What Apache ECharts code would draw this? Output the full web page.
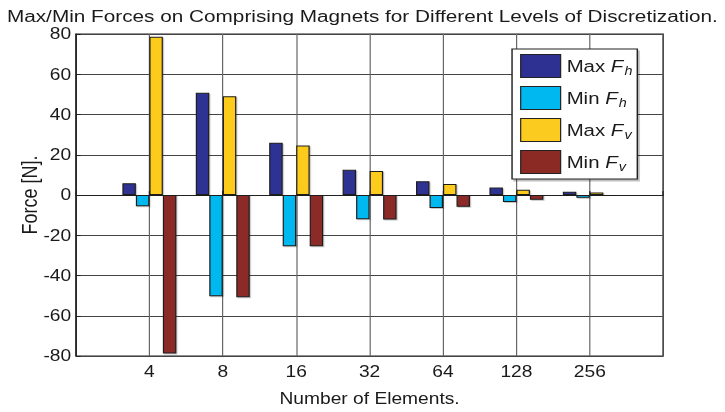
<!DOCTYPE html>
<html>
<head>
<meta charset="utf-8">
<script src="https://cdn.jsdelivr.net/npm/echarts@6/dist/echarts.min.js"></script>
<style>
  html, body { margin: 0; padding: 0; background: #fff; overflow: hidden; }
  /* The figure is laid out on a narrower canvas and widened by 1.2 horizontally */
  #chart {
    width: 604.17px; height: 412px;
    transform: scaleX(1.2); transform-origin: 0 0;
  }
</style>
</head>
<body>
<div id="chart"></div>
<script>
// Number of elements used for each discretization level
const categories = ['4', '8', '16', '32', '64', '128', '256'];

// Extreme forces [N] for each level
const maxFh = [5.8, 50.8, 26.0, 12.5, 6.8, 3.7, 1.6];
const minFh = [-5.6, -50.3, -25.5, -12.1, -6.5, -3.5, -1.4];
const maxFv = [78.6, 49.1, 24.6, 11.9, 5.5, 2.6, 1.3];
const minFv = [-78.8, -50.8, -25.5, -12.2, -5.8, -2.4, -0.6];

const yTicks = [-80, -60, -40, -20, 0, 20, 40, 60, 80];

const seriesDefs = [
  { name: 'Max Fh', values: maxFh, color: '#2e3192', label: ['Max ', 'h'] },
  { name: 'Min Fh', values: minFh, color: '#00b8f0', label: ['Min ', 'h'] },
  { name: 'Max Fv', values: maxFv, color: '#fccb1f', label: ['Max ', 'v'] },
  { name: 'Min Fv', values: minFv, color: '#8b2a25', label: ['Min ', 'v'] }
];

const font = 'Liberation Sans, Arial, Helvetica, sans-serif';
const ink = '#1a1a1a';
const legendLabels = {};
seriesDefs.forEach(s => { legendLabels[s.name] = s.label; });

const chart = echarts.init(document.getElementById('chart'), null, { renderer: 'svg' });

chart.setOption({
  backgroundColor: '#ffffff',
  animation: false,
  textStyle: { fontFamily: font },
  title: {
    text: 'Max/Min Forces on Comprising Magnets for Different Levels of Discretization.',
    left: 'center',
    top: 3,
    textStyle: { fontFamily: font, fontSize: 17.3, fontWeight: 'normal', color: ink }
  },
  grid: {
    left: 63.3, top: 34, width: 489.4, height: 323,
    show: true, borderColor: '#222', borderWidth: 1.2, backgroundColor: '#fff'
  },
  legend: {
    orient: 'vertical',
    left: 426.7, top: 49,
    padding: [5, 4, 5, 6.7],
    itemWidth: 33.3, itemHeight: 23, itemGap: 8,
    backgroundColor: '#fff',
    borderColor: '#222', borderWidth: 1.2,
    shadowColor: 'rgba(0,0,0,0.25)', shadowOffsetX: 1.5, shadowOffsetY: 2, shadowBlur: 1,
    icon: 'rect',
    itemStyle: { borderColor: '#222', borderWidth: 1 },
    formatter: name => {
      const p = legendLabels[name];
      return '{n|' + p[0] + '}{f|F}{s|' + p[1] + '}';
    },
    textStyle: {
      fontFamily: font, fontSize: 17, color: ink,
      rich: {
        n: { fontFamily: font, fontSize: 17, color: ink },
        f: { fontFamily: font, fontSize: 17, fontStyle: 'italic', color: ink },
        s: { fontFamily: font, fontSize: 12, fontStyle: 'italic', color: ink, verticalAlign: 'bottom', padding: [10, 0, 0, 1] }
      }
    },
    data: seriesDefs.map(s => s.name)
  },
  xAxis: {
    type: 'value',
    min: 0, max: 8, interval: 1,
    name: 'Number of Elements.',
    nameLocation: 'middle',
    nameGap: 35,
    nameTextStyle: { fontFamily: font, fontSize: 16, color: ink },
    axisLine: { show: true, lineStyle: { color: '#222', width: 1.2 } },
    axisTick: { show: true, inside: true, length: 4, lineStyle: { color: '#222' } },
    axisLabel: {
      fontFamily: font, fontSize: 16, color: ink, margin: 8,
      formatter: v => (v >= 1 && v <= categories.length ? categories[v - 1] : '')
    },
    splitLine: { show: true, lineStyle: { color: '#666', width: 1 } }
  },
  yAxis: {
    type: 'value',
    min: yTicks[0], max: yTicks[yTicks.length - 1], interval: 20,
    name: 'Force [N].',
    nameLocation: 'middle',
    nameGap: 30,
    nameMoveOverlap: false,
    nameTextStyle: { fontFamily: font, fontSize: 18, color: ink },
    axisLine: { show: true, lineStyle: { color: '#222', width: 1.2 } },
    axisTick: { show: true, inside: true, length: 4, lineStyle: { color: '#222' } },
    axisLabel: { fontFamily: font, fontSize: 16, color: ink, margin: 4 },
    splitLine: { show: true, lineStyle: { color: '#444', width: 1 } }
  },
  series: seriesDefs.map(s => ({
    name: s.name,
    type: 'bar',
    barWidth: 11.25,
    barGap: '0%',
    data: s.values.map((v, i) => [i + 1, v]),
    itemStyle: {
      color: s.color,
      borderColor: '#1e1e1e',
      borderWidth: 1,
      shadowColor: 'rgba(0,0,0,0.22)',
      shadowOffsetX: 1,
      shadowOffsetY: 1,
      shadowBlur: 1
    },
    emphasis: { disabled: true }
  }))
});
</script>
</body>
</html>
